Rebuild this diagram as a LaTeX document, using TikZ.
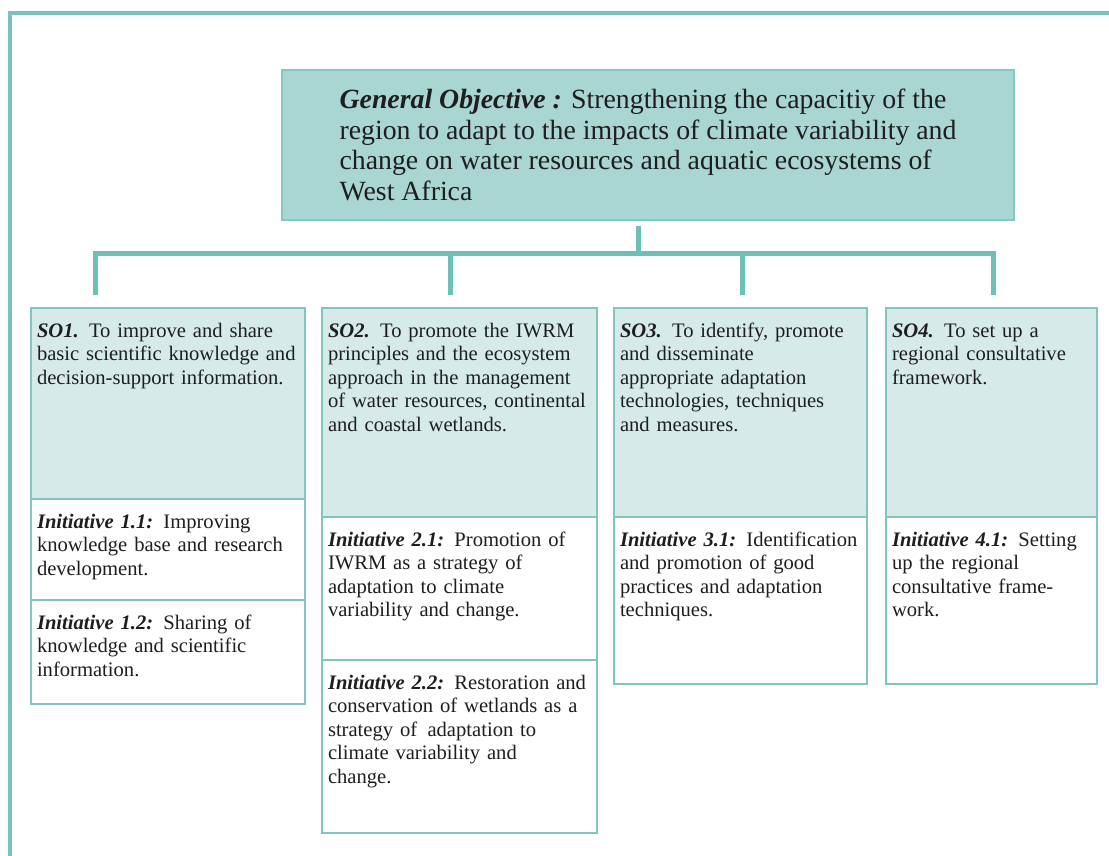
\documentclass[tikz,border=0pt]{standalone}
\usepackage{fontspec}
\setmainfont{Liberation Serif}
\usetikzlibrary{positioning}
\definecolor{framec}{HTML}{78C4BA}
\definecolor{linkc}{HTML}{6EC0B6}
\definecolor{goline}{HTML}{86C9C1}
\definecolor{gofill}{HTML}{A9D5D2}
\definecolor{boxline}{HTML}{80C6BD}
\definecolor{sofill}{HTML}{D6EAEA}
\definecolor{ink}{HTML}{1E1E1E}

\begin{document}
\begin{tikzpicture}[x=0.5pt,y=-0.5pt,
  cell/.style={draw=boxline, line width=1pt, outer sep=0pt, align=left, text=ink,
    inner xsep=3pt, inner ysep=6.5pt, text height=8pt, font=\fontsize{10.3}{11.75}\selectfont},
  so/.style={cell, fill=sofill},
  ini/.style={cell, fill=white},
  goal/.style={draw=goline, fill=gofill, line width=1pt, align=left, text=ink,
    minimum width=366pt, minimum height=74.5pt, font=\fontsize{13.9}{15.25}\selectfont},
  link/.style={draw=linkc, line width=2.5pt},
  frame/.style={draw=framec, line width=2pt}]
\useasboundingbox (0,0) rectangle (1109,856);
\clip (0,0) rectangle (1109,856);
\draw[frame] (10,900) |- (1200,13);

\node[goal] (go) at (648,145) {\textbf{\textit{General Objective :}} Strengthening the capacitiy of the\\
region to adapt to the impacts of climate variability and\\
change on water resources and aquatic ecosystems of\\
West Africa};

% specific objectives and their initiatives
\node[so, text width=131pt, text depth=74.5pt, anchor=north west] (so1) at (31,308)
  {\textbf{\textit{SO1.}} To improve and share\\ basic scientific knowledge and\\ decision-support information.};
\node[ini, text width=131pt, text depth=29.5pt, below=0pt of so1] (in11)
  {\textbf{\textit{Initiative 1.1:}} Improving\\ knowledge base and research\\ development.};
\node[ini, text width=131pt, text depth=31pt, below=0pt of in11] (in12)
  {\textbf{\textit{Initiative 1.2:}} Sharing of\\ knowledge and scientific\\ information.};

\node[so, text width=131.5pt, text depth=83.5pt, right=8.5pt of so1.north east, anchor=north west] (so2)
  {\textbf{\textit{SO2.}} To promote the IWRM\\ principles and the ecosystem\\ approach in the management\\ of water resources, continental\\ and coastal wetlands.};
\node[ini, text width=131.5pt, text depth=50.5pt, below=0pt of so2] (in21)
  {\textbf{\textit{Initiative 2.1:}} Promotion of\\ IWRM as a strategy of\\ adaptation to climate\\ variability and change.};
\node[ini, text width=131.5pt, text depth=65.5pt, below=0pt of in21] (in22)
  {\textbf{\textit{Initiative 2.2:}} Restoration and\\ conservation of wetlands as a\\ strategy of\, adaptation to\\ climate variability and\\ change.};

\node[so, text width=120.5pt, text depth=83.5pt, right=8.5pt of so2.north east, anchor=north west] (so3)
  {\textbf{\textit{SO3.}} To identify, promote\\ and disseminate\\ appropriate adaptation\\ technologies, techniques\\ and measures.};
\node[ini, text width=120.5pt, text depth=62.5pt, below=0pt of so3] (in31)
  {\textbf{\textit{Initiative 3.1:}} Identification\\ and promotion of good\\ practices and adaptation\\ techniques.};

\node[so, text width=99.5pt, text depth=83.5pt, right=9.5pt of so3.north east, anchor=north west] (so4)
  {\textbf{\textit{SO4.}} To set up a\\ regional consultative\\ framework.};
\node[ini, text width=99.5pt, text depth=62.5pt, below=0pt of so4] (in41)
  {\textbf{\textit{Initiative 4.1:}} Setting\\ up the regional\\ consultative frame-\\ work.};

% tree lines
\coordinate (hub) at (638,253.5);
\coordinate (d1) at (95,295);
\coordinate (d2) at (450,295);
\coordinate (d3) at (742,295);
\coordinate (d4) at (993,295);
\draw[link] ([yshift=-2.5pt]go.south -| hub) -- (hub);
\draw[link] (d1) |- (hub) -| (d4);
\draw[link] (d2) -- (d2 |- hub);
\draw[link] (d3) -- (d3 |- hub);
\end{tikzpicture}
\end{document}
